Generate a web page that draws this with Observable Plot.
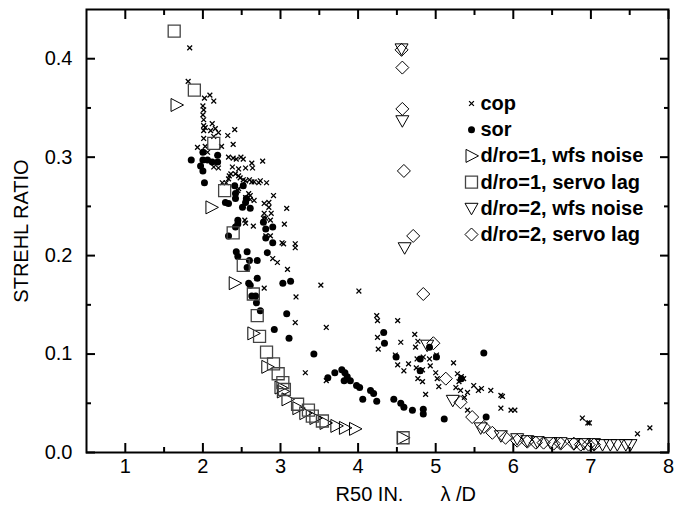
<!DOCTYPE html>
<html><head><meta charset="utf-8">
<script src="https://cdn.jsdelivr.net/npm/d3@7"></script>
<script src="https://cdn.jsdelivr.net/npm/@observablehq/plot@0.6"></script>
<style>
body{margin:0;background:#fff;}
#chart{width:687px;height:514px;}
</style>
</head><body><div id="chart"></div>
<script>
// ---- data (R50 in lambda/D, Strehl ratio) ----
const cop = [[1.83,0.411],[1.81,0.377],[2.02,0.360],[2.09,0.363],[2.14,0.357],[2.00,0.352],[2.01,0.348],[2.00,0.343],[2.01,0.338],[2.01,0.332],[2.01,0.327],[2.03,0.330],[2.12,0.334],[2.10,0.327],[2.16,0.329],[2.20,0.325],[2.14,0.321],[2.01,0.319],[2.32,0.322],[2.41,0.328],[2.39,0.313],[1.93,0.310],[2.03,0.311],[2.06,0.305],[2.24,0.311],[2.14,0.290],[2.20,0.289],[2.33,0.300],[2.39,0.299],[2.43,0.298],[2.49,0.300],[2.52,0.298],[2.38,0.290],[2.46,0.288],[2.55,0.289],[2.63,0.294],[2.64,0.289],[2.77,0.296],[2.34,0.281],[2.33,0.278],[2.36,0.283],[2.42,0.283],[2.46,0.281],[2.48,0.279],[2.52,0.277],[2.55,0.276],[2.60,0.277],[2.63,0.275],[2.66,0.275],[2.72,0.274],[2.74,0.276],[2.82,0.274],[2.25,0.274],[2.30,0.274],[2.52,0.271],[2.46,0.268],[2.45,0.266],[2.42,0.261],[2.59,0.263],[2.61,0.261],[2.55,0.259],[2.61,0.257],[2.66,0.256],[2.79,0.253],[2.85,0.254],[2.85,0.249],[2.91,0.261],[3.08,0.248],[2.79,0.243],[2.81,0.238],[2.88,0.243],[2.78,0.238],[2.87,0.236],[2.54,0.236],[2.55,0.233],[2.65,0.230],[2.81,0.220],[2.87,0.220],[3.05,0.232],[3.19,0.212],[3.19,0.208],[3.04,0.212],[3.02,0.213],[2.90,0.197],[2.96,0.193],[3.09,0.186],[2.79,0.167],[3.20,0.158],[3.19,0.132],[3.32,0.081],[3.52,0.170],[3.59,0.127],[4.01,0.164],[3.59,0.073],
[4.24,0.139],[4.25,0.134],[4.51,0.134],[4.25,0.117],[4.26,0.105],[4.55,0.112],[4.48,0.099],[4.49,0.097],[4.51,0.089],[4.59,0.083],[4.65,0.090],[4.73,0.120],[4.74,0.107],[4.77,0.113],[4.76,0.095],[4.84,0.097],[4.92,0.095],[4.75,0.086],[4.80,0.083],[4.83,0.084],[4.93,0.088],[4.77,0.075],[4.83,0.072],[5.00,0.097],[5.01,0.099],[5.00,0.081],[5.02,0.075],[5.04,0.067],[4.87,0.059],[5.23,0.091],[5.28,0.080],[5.33,0.077],[5.36,0.075],[5.30,0.072],[5.26,0.066],[5.32,0.063],[5.37,0.056],[5.41,0.061],[5.49,0.068],[5.55,0.063],[5.59,0.065],[5.71,0.063],[5.84,0.058],[5.86,0.057],[5.41,0.043],[5.84,0.045],[5.97,0.043],[6.02,0.043],[6.89,0.035],[6.96,0.030],[6.98,0.030],[7.60,0.019],[7.76,0.025]];

const sor = [[1.85,0.297],[1.97,0.291],[2.00,0.305],[2.00,0.297],[2.00,0.286],[2.02,0.274],[2.06,0.297],[2.12,0.295],[2.19,0.302],[2.19,0.295],[2.29,0.254],[2.33,0.253],[2.41,0.271],[2.52,0.271],[2.42,0.263],[2.42,0.258],[2.51,0.249],[2.55,0.254],[2.56,0.258],[2.61,0.248],[2.45,0.236],[2.45,0.232],[2.42,0.229],[2.33,0.220],[2.78,0.234],[2.81,0.227],[2.90,0.229],[2.81,0.218],[2.90,0.213],[2.43,0.204],[2.45,0.199],[2.57,0.204],[2.60,0.195],[2.70,0.195],[2.83,0.203],[2.57,0.188],[2.59,0.172],[2.61,0.170],[2.70,0.177],[2.63,0.159],[2.68,0.159],[2.69,0.152],[2.74,0.144],[3.03,0.172],[3.13,0.174],[3.08,0.141],[2.92,0.125],[3.11,0.116],[3.43,0.100],[3.61,0.076],[3.70,0.081],[3.79,0.084],[3.83,0.081],[3.82,0.073],[3.86,0.077],[3.90,0.073],[3.98,0.068],[4.02,0.066],[4.06,0.054],[4.16,0.063],[4.20,0.060],[4.24,0.052],[4.46,0.054],[4.55,0.050],[4.59,0.046],[4.70,0.043],[4.84,0.044],[4.84,0.039],[5.11,0.034],[4.33,0.122],[4.34,0.111],[4.49,0.097],[4.80,0.095],[4.80,0.083],[4.92,0.107],[5.01,0.097],[5.62,0.101],[5.33,0.075],[5.65,0.036]];

const wfs1 = [[1.66,0.353],[2.11,0.249],[2.41,0.172],[2.65,0.121],[2.83,0.087],[3.00,0.066],[3.03,0.062],[3.09,0.054],[3.23,0.045],[3.32,0.040],[3.45,0.035],[3.58,0.030],[3.72,0.027],[3.83,0.025],[3.96,0.024],[4.58,0.015]];

const servo1 = [[1.63,0.428],[1.89,0.368],[2.14,0.314],[2.28,0.266],[2.39,0.223],[2.52,0.190],[2.65,0.161],[2.70,0.139],[2.73,0.118],[2.82,0.102],[2.91,0.090],[2.97,0.080],[3.03,0.071],[3.05,0.064],[3.22,0.049],[3.36,0.043],[3.41,0.037],[3.54,0.032],[4.58,0.015]];

const wfs2 = [[4.56,0.410],[4.57,0.337],[4.60,0.208],[4.89,0.109],[5.22,0.053],[5.58,0.025],[5.84,0.017],[6.05,0.014],[6.18,0.012],[6.31,0.011],[6.48,0.010],[6.61,0.010],[6.78,0.009],[6.91,0.009],[7.04,0.009],[7.15,0.008],[7.25,0.008],[7.34,0.008],[7.45,0.008],[7.51,0.008]];

const servo2 = [[4.56,0.409],[4.57,0.391],[4.57,0.349],[4.59,0.286],[4.71,0.220],[4.84,0.161],[4.97,0.111],[5.13,0.075],[5.32,0.051],[5.47,0.036],[5.62,0.026],[5.73,0.020],[5.90,0.015],[6.05,0.012],[6.18,0.011],[6.29,0.010],[6.39,0.010],[6.52,0.009],[6.61,0.009],[6.78,0.009],[6.87,0.008],[6.97,0.008],[7.04,0.008]];

const xMajor = [1,2,3,4,5,6,7,8];
const xMinor = [1.5,2.5,3.5,4.5,5.5,6.5,7.5];
const yMajor = [0,0.1,0.2,0.3,0.4];
const yMinor = [0.05,0.15,0.25,0.35];
const legendLabels = ["cop","sor","d/ro=1, wfs noise","d/ro=1, servo lag","d/ro=2, wfs noise","d/ro=2, servo lag"];

// ---- layout ----
const W = 687, H = 514, ML = 86, MR = 19, MT = 9, MB = 62;
const XD = [0.5, 8], YD = [0, 0.45];

// ---- symbols ----
const symX = {draw(c){c.moveTo(-2.4,-2.4);c.lineTo(2.4,2.4);c.moveTo(-2.4,2.4);c.lineTo(2.4,-2.4);}};
const symDot = {draw(c){c.moveTo(3.5,0);c.arc(0,0,3.5,0,2*Math.PI);c.closePath();}};
const symTriR = {draw(c){c.moveTo(-5.5,-6.5);c.lineTo(7,0);c.lineTo(-5.5,6.5);c.closePath();}};
const symSq = {draw(c){c.moveTo(-6,-6);c.lineTo(6,-6);c.lineTo(6,6);c.lineTo(-6,6);c.closePath();}};
const symTriD = {draw(c){c.moveTo(-6.5,-5);c.lineTo(6.5,-5);c.lineTo(0,6.5);c.closePath();}};
const symDia = {draw(c){c.moveTo(0,-6.5);c.lineTo(6.5,0);c.lineTo(0,6.5);c.lineTo(-6.5,0);c.closePath();}};

const styles = [
  {symbol: symX, stroke: "black", fill: "none", strokeWidth: 1.3},
  {symbol: symDot, stroke: "none", fill: "black"},
  {symbol: symTriR, stroke: "black", fill: "none", strokeWidth: 1},
  {symbol: symSq, stroke: "#444", fill: "none", strokeWidth: 1.3},
  {symbol: symTriD, stroke: "black", fill: "none", strokeWidth: 1},
  {symbol: symDia, stroke: "black", fill: "none", strokeWidth: 1}
];
const series = [cop, sor, wfs1, servo1, wfs2, servo2];

const px = d => d[0], py = d => d[1];
const marks = [];
series.forEach((s, i) => marks.push(Plot.dot(s, {x: px, y: py, r: 4, ...styles[i]})));

// inward ticks on all four sides (negative tick size points into the frame)
const tk = {label: null, fill: "none", stroke: "black", strokeWidth: 2};
marks.push(
  Plot.axisX(xMajor, {anchor: "bottom", tickSize: -9, ...tk}),
  Plot.axisX(xMinor, {anchor: "bottom", tickSize: -5, ...tk}),
  Plot.axisX(xMajor, {anchor: "top", tickSize: -9, ...tk}),
  Plot.axisX(xMinor, {anchor: "top", tickSize: -5, ...tk}),
  Plot.axisY(yMajor, {anchor: "left", tickSize: -9, ...tk}),
  Plot.axisY(yMinor, {anchor: "left", tickSize: -5, ...tk}),
  Plot.axisY(yMajor, {anchor: "right", tickSize: -9, ...tk}),
  Plot.axisY(yMinor, {anchor: "right", tickSize: -5, ...tk}),
  Plot.axisX(xMajor, {anchor: "bottom", tickSize: 0, tickPadding: 6, label: null, fontSize: 20, tickFormat: d3.format("d")}),
  Plot.axisY(yMajor, {anchor: "left", tickSize: 0, tickPadding: 14, label: null, fontSize: 20, tickFormat: d3.format(".1f")}),
  Plot.frame({stroke: "black", strokeWidth: 2}),
  Plot.text(["STREHL RATIO"], {frameAnchor: "left", dx: -65, rotate: -90, fontSize: 20, textAnchor: "middle", lineAnchor: "middle"}),
  Plot.text(["R50 IN."], {frameAnchor: "bottom", dx: -8, dy: 48, fontSize: 20, textAnchor: "middle", lineAnchor: "bottom"}),
  Plot.text(["λ /D"], {frameAnchor: "bottom", dx: 63, dy: 48, fontSize: 20, textAnchor: "start", lineAnchor: "bottom"})
);

// legend (inside the frame, top right)
legendLabels.forEach((lab, i) => {
  const dy = 94 + i * 26.2;
  marks.push(Plot.dot([0], {frameAnchor: "top-left", dx: 385, dy, r: 4, ...styles[i]}));
  marks.push(Plot.text([lab], {frameAnchor: "top-left", dx: 394, dy, textAnchor: "start", lineAnchor: "middle", fontSize: 20, fontWeight: "bold", fill: "black", ariaLabel: "legend"}));
});

const chart = Plot.plot({
  width: W,
  height: H,
  marginLeft: ML,
  marginRight: MR,
  marginTop: MT,
  marginBottom: MB,
  x: {domain: XD},
  y: {domain: YD},
  style: {fontFamily: "'Liberation Sans', Arial, Helvetica, sans-serif", color: "black", background: "white"},
  marks
});
chart.querySelectorAll('g[aria-label="legend"] text').forEach(t => t.style.letterSpacing = "0.8px");
document.getElementById("chart").appendChild(chart);
</script>
</body></html>
